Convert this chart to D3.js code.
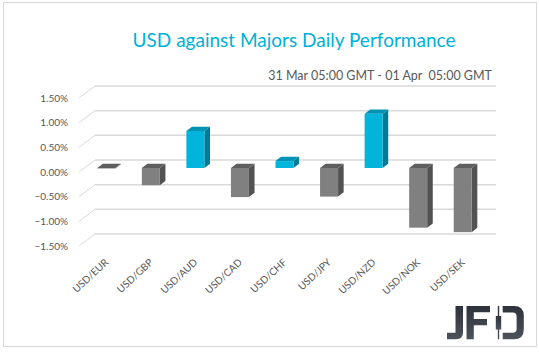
<!DOCTYPE html>
<html>
<head>
<meta charset="utf-8">
<script src="https://cdn.jsdelivr.net/npm/d3@7"></script>
<style>
  body { margin: 0; background: #fff; }
  svg text { font-family: Lato, "Open Sans", sans-serif; }
  .axis path, .axis line { display: none; }
</style>
</head>
<body>
<div id="chart"></div>
<script>
// pairs and daily change in %
const pairs = ["USD/EUR", "USD/GBP", "USD/AUD", "USD/CAD", "USD/CHF", "USD/JPY", "USD/NZD", "USD/NOK", "USD/SEK"];
const changes = [-0.01, -0.35, 0.75, -0.59, 0.14, -0.58, 1.10, -1.21, -1.30];
const tickValues = [1.5, 1.0, 0.5, 0, -0.5, -1.0, -1.5];

const titleText = "USD against Majors Daily Performance";
const subtitleText = "31 Mar 05:00 GMT - 01 Apr  05:00 GMT";

let width = 539, height = 352;

// 3d look: back wall offset to front plane, bar front and bar depth
let wallDx = -16, wallDy = 12;
let barFx = -11, barFy = 8;
let barDx = 5.6, barDy = -4.3;
let barW = 18;

let svg = d3.select("#chart").append("svg")
  .attr("width", width)
  .attr("height", height);

svg.append("rect")
  .attr("x", 3.5).attr("y", 2.5)
  .attr("width", 533).attr("height", 344)
  .attr("fill", "#fff")
  .attr("stroke", "#d9d9d9")
  .attr("stroke-width", 1);

let xScale = d3.scaleBand()
  .domain(pairs)
  .range([95, 496]);

let yScale = d3.scaleLinear()
  .domain([-1.5, 1.5])
  .range([234, 86]);

// back wall gridlines + side diagonals
let grid = svg.append("g");
grid.selectAll("line.h")
  .data(tickValues)
  .enter()
  .append("line")
  .attr("class", "h")
  .attr("x1", xScale.range()[0])
  .attr("x2", xScale.range()[1])
  .attr("y1", d => yScale(d))
  .attr("y2", d => yScale(d))
  .attr("stroke", "#d9d9d9")
  .attr("stroke-width", 1.5);
grid.selectAll("line.d")
  .data(tickValues)
  .enter()
  .append("line")
  .attr("class", "d")
  .attr("x1", xScale.range()[0])
  .attr("x2", xScale.range()[0] + wallDx)
  .attr("y1", d => yScale(d))
  .attr("y2", d => yScale(d) + wallDy)
  .attr("stroke", "#d9d9d9")
  .attr("stroke-width", 1);

// y axis labels on front plane
let yAxis = d3.axisLeft(yScale)
  .tickValues(tickValues)
  .tickSize(0)
  .tickPadding(11)
  .tickFormat(d => d3.format(".2f")(d) + "%");
svg.append("g")
  .attr("class", "axis")
  .attr("transform", `translate(${xScale.range()[0] + wallDx},${wallDy})`)
  .call(yAxis)
  .selectAll("text")
  .attr("font-size", 10)
  .attr("fill", "#595959")
  .style("font-family", "Lato, sans-serif");

// bars
let cyan = { front: "#00b4dc", side: "#007b96", top: "#0093b4" };
let gray = { front: "#808080", side: "#525252", top: "#5e5e5e" };

let bars = svg.selectAll("g.bar")
  .data(pairs.map((p, i) => ({ pair: p, v: changes[i] })))
  .enter()
  .append("g")
  .attr("class", "bar");

function fx(d) { return xScale(d.pair) + xScale.bandwidth() / 2 - barW / 2 + barFx; }
function topY(d) { return Math.min(yScale(d.v), yScale(0)) + barFy; }
function botY(d) { return Math.max(yScale(d.v), yScale(0)) + barFy; }
function col(d) { return d.v > 0 ? cyan : gray; }

// side face
bars.append("path")
  .attr("d", d => {
    let x = fx(d) + barW, t = topY(d), b = botY(d);
    return `M${x},${t} L${x + barDx},${t + barDy} L${x + barDx},${b + barDy} L${x},${b} Z`;
  })
  .attr("fill", d => col(d).side);

// front face
bars.append("rect")
  .attr("x", fx)
  .attr("y", topY)
  .attr("width", barW)
  .attr("height", d => botY(d) - topY(d))
  .attr("fill", d => col(d).front);

// top face
bars.append("path")
  .attr("d", d => {
    let x = fx(d), t = topY(d);
    return `M${x},${t} L${x + barDx},${t + barDy} L${x + barW + barDx},${t + barDy} L${x + barW},${t} Z`;
  })
  .attr("fill", d => col(d).top);

// x axis labels, rotated
let xAxis = d3.axisBottom(xScale).tickSize(0).tickPadding(0);
svg.append("g")
  .attr("class", "axis")
  .attr("transform", `translate(${barFx - 2},258)`)
  .call(xAxis)
  .selectAll("text")
  .attr("font-size", 10)
  .attr("fill", "#595959")
  .attr("text-anchor", "end")
  .attr("dy", "0.7em")
  .attr("transform", "rotate(-43)")
  .style("font-family", "Lato, sans-serif");

// titles
svg.append("text")
  .attr("x", 294)
  .attr("y", 47)
  .attr("text-anchor", "middle")
  .attr("font-size", 19)
  .attr("fill", "#00b0d8")
  .text(titleText);

svg.append("text")
  .attr("x", 492)
  .attr("y", 80)
  .attr("text-anchor", "end")
  .attr("font-size", 12.5)
  .attr("fill", "#595959")
  .style("white-space", "pre")
  .text(subtitleText);

// JFD logo
let grad = svg.append("defs").append("linearGradient")
  .attr("id", "lg").attr("x1", 0).attr("y1", 0).attr("x2", 0).attr("y2", 1);
grad.append("stop").attr("offset", 0).attr("stop-color", "#2e333b");
grad.append("stop").attr("offset", 1).attr("stop-color", "#4d535b");
let logo = svg.append("g").attr("fill", "url(#lg)");
// J
logo.append("path").attr("d", "M455.5,306 H463 V332.5 Q463,339.3 456,339.3 H447 V332.8 H455.5 Z");
// F
logo.append("path").attr("d", "M466.5,306 H490 V312.3 H473.8 V319 H487 V325.3 H473.8 V339.3 H466.5 Z");
// D candlestick
logo.append("rect").attr("x", 497.8).attr("y", 306).attr("width", 1.4).attr("height", 33.3);
logo.append("rect").attr("x", 495.8).attr("y", 316).attr("width", 5.4).attr("height", 13.5);
// D bowl
logo.append("path").attr("d", "M502.7,306 H514 Q523.8,306 523.8,315.8 V329.5 Q523.8,339.3 514,339.3 H502.7 V332.8 H512.8 Q516.6,332.8 516.6,329 V316.3 Q516.6,312.5 512.8,312.5 H502.7 Z");
</script>
</body>
</html>
